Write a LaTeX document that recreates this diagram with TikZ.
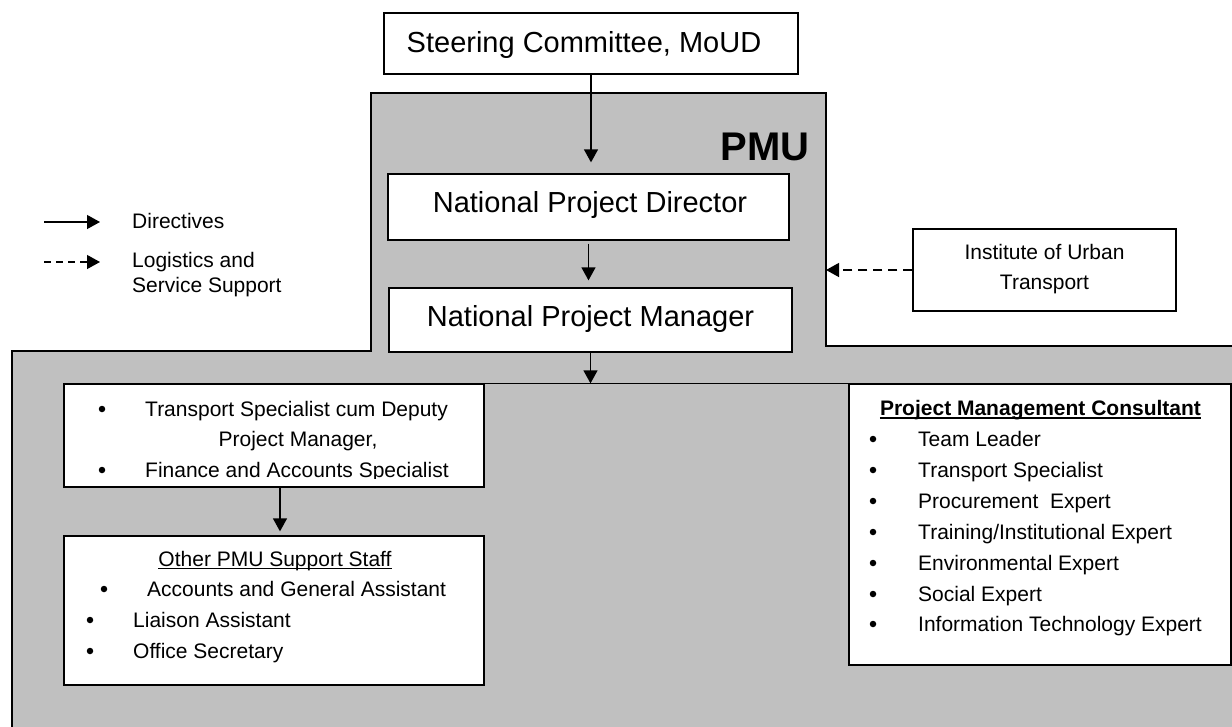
\documentclass[tikz,border=0pt]{standalone}
\usepackage{fontspec}
\setmainfont{Liberation Sans}
\usetikzlibrary{arrows.meta}
\definecolor{pmugray}{RGB}{192,192,192}
\begin{document}
\begin{tikzpicture}[x=1pt,y=-1pt,
  box/.style={draw, line width=1.3pt, fill=white, rectangle, inner sep=0pt},
  big/.style={font=\fontsize{29}{34}\selectfont, inner sep=0pt, anchor=base},
  small/.style={font=\fontsize{21}{25}\selectfont, inner sep=0pt, anchor=base west},
  smallc/.style={font=\fontsize{21}{25}\selectfont, inner sep=0pt, anchor=base},
  boldc/.style={font=\fontsize{21}{25}\selectfont\bfseries, inner sep=0pt, anchor=base},
  bul/.style={circle, fill=black, inner sep=0pt, minimum size=6.5pt},
  uline/.style={line width=1.2pt},
  dir/.style={line width=1.3pt, -{Triangle[length=13pt,width=14pt]}},
  logi/.style={dir, dash pattern=on 9pt off 6pt},
  logileg/.style={dir, dash pattern=on 7pt off 5pt},
]
\useasboundingbox (0,0) rectangle (1232,726);

% gray PMU region
\fill[pmugray] (12,727) -- (12,351) -- (371,351) -- (371,93) -- (826,93) -- (826,346) -- (1233,346) -- (1233,727) -- cycle;
\draw[line width=1.3pt] (12,727) -- (12,351) -- (371,351) -- (371,93) -- (826,93) -- (826,346) -- (1233,346);

% PMU label
\node[font=\fontsize{40}{46}\selectfont\bfseries, inner sep=0pt, anchor=base east] (pmu) at (810,160) {PMU};

% boxes
\node[box, minimum width=414pt, minimum height=61pt] (sc) at (591,43.5) {};
\node[big] (sct) at (584,52) {Steering Committee, MoUD};

\node[box, minimum width=401pt, minimum height=66pt] (npd) at (588.5,207) {};
\node[big] (npdt) at (590,212) {National Project Director};

\node[box, minimum width=403pt, minimum height=64pt] (npm) at (590.5,320) {};
\node[big] (npmt) at (590.5,326) {National Project Manager};

\node[box, minimum width=263pt, minimum height=82pt] (iut) at (1044.5,270) {};
\node[smallc] (iut1) at (1044.5,259) {Institute of Urban};
\node[smallc] (iut2) at (1044.5,289) {Transport};

% legend
\coordinate (la1) at (44,222);
\coordinate (lb1) at (100,222);
\draw[dir] (la1) -- (lb1);
\node[small] (lt1) at (132,228) {Directives};
\coordinate (la2) at (44,262);
\coordinate (lb2) at (100,262);
\draw[logileg] (la2) -- (lb2);
\node[small] (lt2) at (132,267) {Logistics and};
\node[small] (lt3) at (132,292) {Service Support};

% left top box
\node[box, minimum width=420pt, minimum height=103pt] (tl) at (274,435.5) {};
\node[bul] (tlb1) at (102,409) {};
\node[small] (tl1) at (145,416) {Transport Specialist cum Deputy};
\node[smallc] (tl2) at (298,446) {Project Manager,};
\node[bul] (tlb2) at (102,470) {};
\begin{scope}
  \clip (64,384) rectangle (484,478.5);
  \node[small] (tl3) at (145,477) {Finance and Accounts Specialist};
\end{scope}

% other staff box
\node[box, minimum width=420pt, minimum height=149pt] (os) at (274,610.5) {};
\node[smallc] (ost) at (275,566) {Other PMU Support Staff};
\draw[uline] ([yshift=-2.5pt]ost.base west) -- ([yshift=-2.5pt]ost.base east);
\node[bul] (osb1) at (104,589) {};
\node[small] (os1) at (147,596) {Accounts and General Assistant};
\node[bul] (osb2) at (90,620) {};
\node[small] (os2) at (133,627) {Liaison Assistant};
\node[bul] (osb3) at (90,651) {};
\node[small] (os3) at (133,658) {Office Secretary};

% PMC box
\node[box, minimum width=382pt, minimum height=281pt] (pmc) at (1040,524.5) {};
\node[boldc] (pmct) at (1040.5,415) {Project Management Consultant};
\draw[uline] ([yshift=-3pt]pmct.base west) -- ([yshift=-3pt]pmct.base east);
\node[bul] (pb1) at (873,439) {};
\node[small] (p1) at (918,446) {Team Leader};
\node[bul] (pb2) at (873,470) {};
\node[small] (p2) at (918,477) {Transport Specialist};
\node[bul] (pb3) at (873,501) {};
\node[small] (p3) at (918,508) {Procurement~ Expert};
\node[bul] (pb4) at (873,532) {};
\node[small] (p4) at (918,539) {Training/Institutional Expert};
\node[bul] (pb5) at (873,563) {};
\node[small] (p5) at (918,570) {Environmental Expert};
\node[bul] (pb6) at (873,594) {};
\node[small] (p6) at (918,601) {Social Expert};
\node[bul] (pb7) at (873,624) {};
\node[small] (p7) at (918,631) {Information Technology Expert};

% connecting line between lower boxes
\draw[line width=1.3pt] (tl.north east) -- (pmc.north west);

% arrows
\draw[dir, shorten >=11pt] (sc.south) -- (sc.south |- npd.north);
\draw[dir, shorten <=3pt, shorten >=7pt] (npd.south) -- (npd.south |- npm.north);
\draw[dir] (npm.south) -- (npm.south |- tl.north);
\draw[dir, shorten >=4pt] ([xshift=6pt]tl.south) -- ([xshift=6pt]tl.south |- os.north);
\coordinate (pmuE) at (826,270);
\draw[logi] (iut.west) -- (pmuE);
\end{tikzpicture}
\end{document}
